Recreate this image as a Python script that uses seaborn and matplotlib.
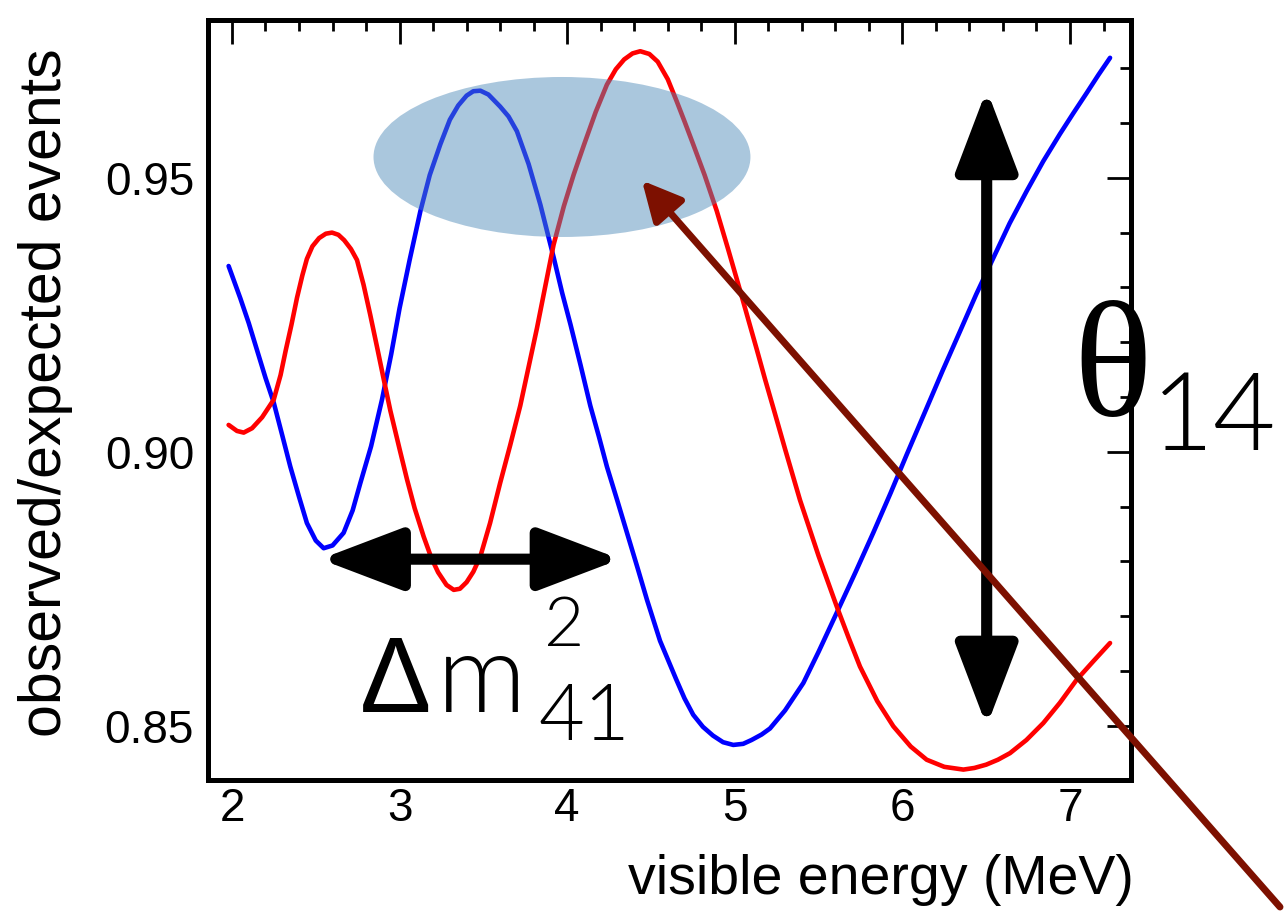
import numpy as np
import pandas as pd
import matplotlib
matplotlib.use("Agg")
import matplotlib.pyplot as plt
import seaborn as sns
from matplotlib.patches import Ellipse, FancyArrowPatch
from matplotlib.ticker import MultipleLocator, FormatStrFormatter, FixedLocator

# ---------------- data ----------------
blue_energy = [1.98, 2.05, 2.10, 2.15, 2.20, 2.249, 2.30, 2.348, 2.40, 2.447,
               2.50, 2.547, 2.60, 2.666, 2.72, 2.766, 2.83, 2.895, 2.95, 3.00,
               3.06, 3.124, 3.18, 3.243, 3.30, 3.35, 3.40, 3.44, 3.482, 3.53,
               3.60, 3.65, 3.70, 3.77, 3.84, 3.92, 3.97, 4.02, 4.08, 4.138,
               4.19, 4.237, 4.30, 4.357, 4.42, 4.476, 4.554, 4.65, 4.70, 4.752,
               4.81, 4.87, 4.93, 4.991, 5.05, 5.10, 5.16, 5.21, 5.30, 5.409,
               5.50, 5.608, 5.72, 5.826, 5.93, 6.026, 6.145, 6.24, 6.344, 6.44,
               6.543, 6.64, 6.742, 6.84, 6.94, 7.02, 7.10, 7.17, 7.239]
blue_ratio = [0.9339, 0.9280, 0.9235, 0.9185, 0.9135, 0.9090, 0.9030, 0.8973, 0.8918, 0.8870,
              0.8838, 0.8824, 0.8829, 0.8852, 0.8893, 0.8943, 0.9010, 0.9095, 0.9178, 0.9262,
              0.9350, 0.9439, 0.9505, 0.9561, 0.9606, 0.9632, 0.9650, 0.9658, 0.9659, 0.9652,
              0.9630, 0.9612, 0.9585, 0.9525, 0.9451, 0.9354, 0.9290, 0.9232, 0.9158, 0.9084,
              0.9027, 0.8973, 0.8910, 0.8852, 0.8788, 0.8730, 0.8655, 0.8585, 0.8550, 0.8520,
              0.8498, 0.8482, 0.8470, 0.8465, 0.8467, 0.8474, 0.8484, 0.8495, 0.8528, 0.8578,
              0.8635, 0.8706, 0.8780, 0.8852, 0.8925, 0.8995, 0.9080, 0.9148, 0.9220, 0.9287,
              0.9354, 0.9417, 0.9476, 0.9530, 0.9580, 0.9618, 0.9655, 0.9688, 0.9719]

red_energy = [1.98, 2.03, 2.07, 2.12, 2.18, 2.249, 2.29, 2.32, 2.355, 2.388,
              2.42, 2.447, 2.48, 2.52, 2.56, 2.597, 2.635, 2.67, 2.71, 2.746,
              2.785, 2.825, 2.865, 2.905, 2.945, 3.00, 3.044, 3.09, 3.144, 3.19,
              3.23, 3.28, 3.323, 3.36, 3.40, 3.44, 3.482, 3.54, 3.60, 3.66,
              3.72, 3.77, 3.82, 3.87, 3.919, 3.98, 4.039, 4.10, 4.17, 4.237,
              4.29, 4.34, 4.39, 4.436, 4.49, 4.54, 4.60, 4.653, 4.70, 4.752,
              4.82, 4.892, 4.96, 5.031, 5.08, 5.131, 5.18, 5.23, 5.30, 5.389,
              5.50, 5.608, 5.68, 5.747, 5.85, 5.946, 6.05, 6.145, 6.25, 6.364,
              6.43, 6.50, 6.57, 6.642, 6.74, 6.841, 6.94, 7.04, 7.14, 7.239]
red_ratio = [0.9049, 0.9038, 0.9035, 0.9043, 0.9063, 0.9095, 0.9140, 0.9184, 0.9232, 0.9281,
             0.9322, 0.9352, 0.9375, 0.9390, 0.9398, 0.9400, 0.9396, 0.9386, 0.9370, 0.9350,
             0.9305, 0.9250, 0.9192, 0.9133, 0.9075, 0.9005, 0.8950, 0.8897, 0.8845, 0.8806,
             0.8780, 0.8757, 0.8748, 0.8750, 0.8762, 0.8781, 0.8809, 0.8870, 0.8943, 0.9012,
             0.9084, 0.9155, 0.9226, 0.9303, 0.9378, 0.9448, 0.9506, 0.9560, 0.9620, 0.9670,
             0.9698, 0.9716, 0.9727, 0.9731, 0.9726, 0.9712, 0.9680, 0.9640, 0.9603, 0.9561,
             0.9505, 0.9440, 0.9370, 0.9295, 0.9242, 0.9187, 0.9133, 0.9080, 0.9005, 0.8912,
             0.8810, 0.8718, 0.8660, 0.8608, 0.8545, 0.8499, 0.8462, 0.8438, 0.8425, 0.8420,
             0.8423, 0.8429, 0.8438, 0.8450, 0.8474, 0.8505, 0.8542, 0.8584, 0.8618, 0.8651]

x_ticks = [2, 3, 4, 5, 6, 7]
y_ticks = [0.85, 0.90, 0.95]
x_label = "visible energy (MeV)"
y_label = "observed/expected events"

# ---------------- styling ----------------
sns.set_style("white")
plt.rcParams["font.family"] = ["Liberation Sans", "DejaVu Sans"]
plt.rcParams["text.color"] = "black"
plt.rcParams["axes.labelcolor"] = "black"
plt.rcParams["xtick.color"] = "black"
plt.rcParams["ytick.color"] = "black"

df = pd.concat([
    pd.DataFrame({"energy": blue_energy, "ratio": blue_ratio, "curve": "blue"}),
    pd.DataFrame({"energy": red_energy, "ratio": red_ratio, "curve": "red"}),
], ignore_index=True)

fig = plt.figure(figsize=(12.85, 9.23), dpi=100)
ax = fig.add_axes([208 / 1285, 1 - 780 / 923, (1131 - 208) / 1285, (780 - 20) / 923])

sns.lineplot(data=df, x="energy", y="ratio", hue="curve", hue_order=["blue", "red"],
             palette={"blue": "#0000ff", "red": "#ff0000"}, linewidth=3.3,
             estimator=None, legend=False, ax=ax)

ax.set_xlim(1.857, 7.364)
ax.set_ylim(0.8401, 0.9788)

ax.xaxis.set_major_locator(FixedLocator(x_ticks))
ax.yaxis.set_major_locator(FixedLocator(y_ticks))
ax.xaxis.set_minor_locator(MultipleLocator(0.2))
ax.yaxis.set_minor_locator(MultipleLocator(0.01))
ax.yaxis.set_major_formatter(FormatStrFormatter("%.2f"))
ax.xaxis.set_major_formatter(FormatStrFormatter("%d"))

ax.tick_params(which="both", direction="in", top=True, right=True,
               width=2.0, color="black", labelcolor="black", labelsize=33)
ax.tick_params(which="major", length=17)
ax.tick_params(which="minor", length=8)
ax.tick_params(axis="y", pad=10)
ax.tick_params(axis="x", pad=5)
for sp in ax.spines.values():
    sp.set_linewidth(3.6)
    sp.set_color("black")

ax.set_xlabel(x_label, fontsize=40, ha="right", color="black")
ax.xaxis.set_label_coords(1.003, -0.098)
ax.set_ylabel(y_label, fontsize=42.5, color="black")
ax.yaxis.set_label_coords(-0.146, 0.51)

# highlighted region (semi-transparent ellipse)
ax.add_patch(Ellipse((3.969, 0.9538), 2.249, 0.0292, facecolor="#4f8ab8",
                     edgecolor="none", alpha=0.48, zorder=5))

# Δm² double arrow (horizontal)
ax.add_patch(FancyArrowPatch((2.527, 0.8804), (4.317, 0.8804),
                             arrowstyle="<|-|>,head_length=50,head_width=19",
                             mutation_scale=1, lw=8, color="black",
                             shrinkA=0, shrinkB=0, zorder=6))
# θ14 double arrow (vertical)
ax.add_patch(FancyArrowPatch((6.503, 0.8499), (6.503, 0.9661),
                             arrowstyle="<|-|>,head_length=50,head_width=19",
                             mutation_scale=1, lw=8, color="black",
                             shrinkA=0, shrinkB=0, zorder=6))

# long dark-red pointer arrow
ax.annotate("", xy=(4.446, 0.9495), xycoords="data",
            xytext=(1280, 16), textcoords="figure pixels",
            arrowprops=dict(arrowstyle="-|>,head_length=24,head_width=12",
                            mutation_scale=1, lw=5, color="#7d1000",
                            shrinkA=0, shrinkB=0),
            annotation_clip=False, zorder=8)

# labels of the parameters
ax.text(2.764, 0.8526, "Δ", fontsize=77, family=["Liberation Sans", "DejaVu Sans"],
        ha="left", va="baseline", zorder=7)
ax.text(3.22, 0.8526, "m", fontsize=80, family=["Lato", "DejaVu Sans"], fontweight=300,
        ha="left", va="baseline", zorder=7)
ax.text(3.86, 0.8645, "2", fontsize=50, family=["Lato", "DejaVu Sans"], fontweight=300,
        ha="left", va="baseline", zorder=7)
ax.text(3.83, 0.8474, "41", fontsize=57, family=["Lato", "DejaVu Sans"], fontweight=300,
        ha="left", va="baseline", zorder=7)
ax.text(7.018, 0.9068, "θ", fontsize=118, family=["Liberation Serif", "DejaVu Serif"],
        ha="left", va="baseline", zorder=7)
ax.text(8.235, 0.9004, "14", fontsize=78, family=["Lato", "DejaVu Sans"], fontweight=300,
        ha="right", va="baseline", zorder=7)

fig.savefig("out.png", dpi=100)
